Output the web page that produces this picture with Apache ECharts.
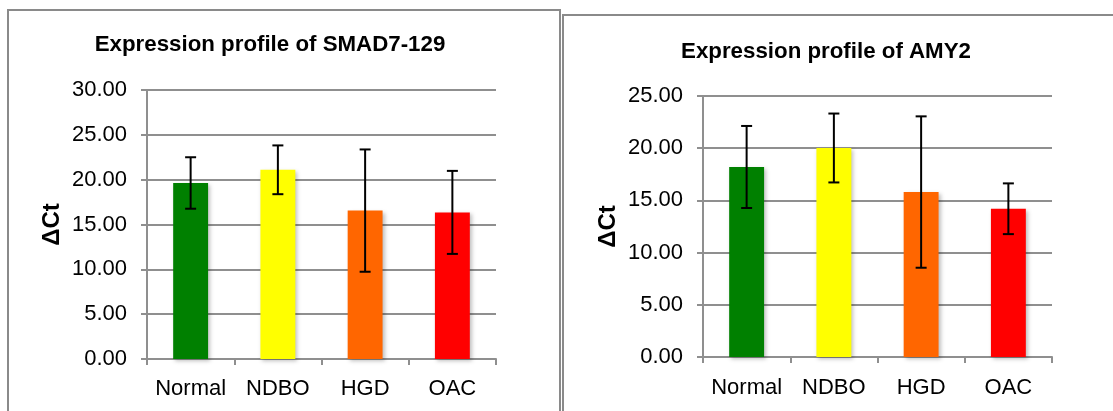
<!DOCTYPE html>
<html>
<head>
<meta charset="utf-8">
<script src="https://cdn.jsdelivr.net/npm/echarts@6/dist/echarts.min.js"></script>
<style>
html,body{margin:0;padding:0;background:#fff;}
#c{width:1113px;height:411px;}
</style>
</head>
<body>
<div id="c"></div>
<script>
var categories = ['Normal', 'NDBO', 'HGD', 'OAC'];
var barColors = ['#008000', '#FFFF00', '#FF6600', '#FF0000'];

var titleA = 'Expression profile of SMAD7-129';
var meanA = [19.63, 21.10, 16.55, 16.35];
var errA = [2.87, 2.72, 6.82, 4.63];
var yTicksA = {min: 0, max: 30, interval: 5};

var titleB = 'Expression profile of AMY2';
var meanB = [18.20, 20.02, 15.80, 14.20];
var errB = [3.93, 3.30, 7.25, 2.43];
var yTicksB = {min: 0, max: 25, interval: 5};

var yName = 'ΔCt';
var FONT = 'Liberation Sans, Arial, sans-serif';
var GRID_COLOR = '#8f8f8f';

function barData(means) {
  return means.map(function (v, i) {
    return {value: v, itemStyle: {color: barColors[i]}};
  });
}
function errData(means, errs) {
  return means.map(function (v, i) { return [i, v - errs[i], v + errs[i]]; });
}
function errRender(params, api) {
  var x = api.value(0);
  var lo = api.coord([x, api.value(1)]);
  var hi = api.coord([x, api.value(2)]);
  var cap = 5.5;
  var st = {stroke: '#000', lineWidth: 2};
  return {
    type: 'group',
    children: [
      {type: 'line', shape: {x1: lo[0], y1: lo[1], x2: hi[0], y2: hi[1]}, style: st},
      {type: 'line', shape: {x1: lo[0] - cap, y1: lo[1], x2: lo[0] + cap, y2: lo[1]}, style: st},
      {type: 'line', shape: {x1: hi[0] - cap, y1: hi[1], x2: hi[0] + cap, y2: hi[1]}, style: st}
    ]
  };
}
function xAxis(gi, margin) {
  return {
    type: 'category', gridIndex: gi, data: categories,
    axisLine: {show: true, lineStyle: {color: GRID_COLOR, width: 2}},
    axisTick: {show: true, length: 6, interval: 0, lineStyle: {color: GRID_COLOR, width: 2}},
    axisLabel: {color: '#000', fontSize: 22, fontFamily: FONT, margin: margin, interval: 0},
    splitLine: {show: false}
  };
}
function yAxis(gi, t) {
  return {
    type: 'value', gridIndex: gi, min: t.min, max: t.max, interval: t.interval,
    name: yName, nameLocation: 'middle', nameRotate: 90, nameGap: 83,
    nameTextStyle: {color: '#000', fontSize: 24, fontWeight: 'bold', fontFamily: FONT},
    axisLine: {show: true, lineStyle: {color: GRID_COLOR, width: 2}},
    axisTick: {show: true, length: 6, lineStyle: {color: GRID_COLOR, width: 2}},
    axisLabel: {color: '#000', fontSize: 22, fontFamily: FONT, margin: 20,
      formatter: function (v) { return v.toFixed(2); }},
    splitLine: {show: true, lineStyle: {color: GRID_COLOR, width: 2}}
  };
}
var barShadow = {shadowBlur: 4, shadowOffsetX: 2, shadowOffsetY: 2, shadowColor: 'rgba(0,0,0,0.25)'};

var chart = echarts.init(document.getElementById('c'), null, {renderer: 'canvas'});
chart.setOption({
  backgroundColor: '#fff',
  animation: false,
  title: [
    {text: titleA, left: 265, top: 29, textAlign: 'center',
      textStyle: {color: '#000', fontSize: 22.3, fontWeight: 'bold', fontFamily: FONT}},
    {text: titleB, left: 821, top: 36, textAlign: 'center',
      textStyle: {color: '#000', fontSize: 22.3, fontWeight: 'bold', fontFamily: FONT}}
  ],
  graphic: [
    {type: 'rect', shape: {x: 8, y: 10, width: 552, height: 420},
      style: {fill: 'none', stroke: '#8a8a8a', lineWidth: 2}, silent: true},
    {type: 'rect', shape: {x: 563, y: 15, width: 570, height: 420},
      style: {fill: 'none', stroke: '#8a8a8a', lineWidth: 2}, silent: true}
  ],
  grid: [
    {left: 147, top: 90, width: 349, height: 269},
    {left: 703, top: 96, width: 349, height: 261}
  ],
  xAxis: [xAxis(0, 19), xAxis(1, 20)],
  yAxis: [yAxis(0, yTicksA), yAxis(1, yTicksB)],
  series: [
    {type: 'bar', xAxisIndex: 0, yAxisIndex: 0, data: barData(meanA), barWidth: '40%', itemStyle: barShadow},
    {type: 'custom', xAxisIndex: 0, yAxisIndex: 0, data: errData(meanA, errA), renderItem: errRender, z: 5},
    {type: 'bar', xAxisIndex: 1, yAxisIndex: 1, data: barData(meanB), barWidth: '40%', itemStyle: barShadow},
    {type: 'custom', xAxisIndex: 1, yAxisIndex: 1, data: errData(meanB, errB), renderItem: errRender, z: 5}
  ]
});
</script>
</body>
</html>
